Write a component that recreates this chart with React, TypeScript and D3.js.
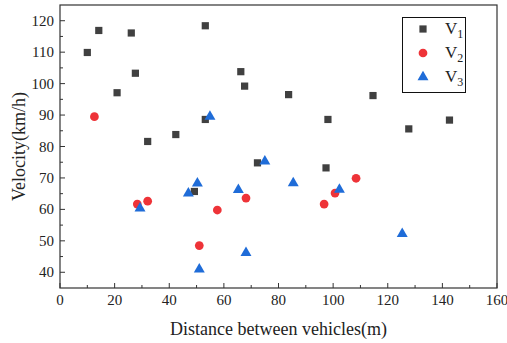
import React from "react";
import * as d3 from "d3";

const v1X = [10.0, 14.2, 20.9, 26.1, 27.6, 32.1, 42.4, 49.2, 53.2, 53.2, 66.2, 67.6, 72.3, 83.7, 97.4, 98.1, 114.6, 127.7, 142.6];
const v1Y = [109.9, 116.9, 97.1, 116.1, 103.3, 81.6, 83.8, 65.7, 118.4, 88.6, 103.8, 99.2, 74.8, 96.5, 73.2, 88.6, 96.2, 85.6, 88.4];
const v2X = [12.6, 28.3, 32.1, 51.0, 57.6, 68.1, 96.7, 100.7, 108.4];
const v2Y = [89.5, 61.7, 62.6, 48.5, 59.8, 63.6, 61.7, 65.2, 69.9];
const v3X = [54.9, 29.3, 47.0, 50.3, 65.3, 51.0, 68.1, 75.0, 85.4, 102.3, 125.3];
const v3Y = [89.5, 60.3, 65.1, 68.3, 66.2, 40.9, 46.2, 75.3, 68.4, 66.3, 52.2];
const xTicks = [0, 20, 40, 60, 80, 100, 120, 140, 160];
const yTicks = [40, 50, 60, 70, 80, 90, 100, 110, 120];
const seriesNames = ["1", "2", "3"];

const W = 507, H = 343;
const M = { left: 60, right: 497, top: 5, bottom: 288 };
const FONT = "'Liberation Serif', 'Times New Roman', serif";
const COLORS = ["#404040", "#ee3338", "#1f6cd8"];

export default function App() {
  const x = d3.scaleLinear().domain([0, 160]).range([M.left, M.right]);
  const y = d3.scaleLinear().domain([35, 125]).range([M.bottom, M.top]);
  const sq = d3.symbol().type(d3.symbolSquare).size(52)()!;
  const circ = d3.symbol().type(d3.symbolCircle).size(60)()!;
  const tri = d3.symbol().type(d3.symbolTriangle).size(52)()!;
  const shapes = [sq, circ, tri];
  const series = [
    v1X.map((d, i) => [d, v1Y[i]]),
    v2X.map((d, i) => [d, v2Y[i]]),
    v3X.map((d, i) => [d, v3Y[i]]),
  ];
  const xMinor = d3.range(10, 160, 20);
  const yMinor = d3.range(45, 125, 10);
  const axisColor = "#333";
  return (
    <svg width={W} height={H} style={{ position: "absolute", left: 0, top: 0 }}>
      <rect x={0} y={0} width={W} height={H} fill="#fff" />
      {xTicks.map((t) => (
        <g key={"xt" + t}>
          <line x1={x(t)} x2={x(t)} y1={M.bottom} y2={M.bottom - 5} stroke={axisColor} strokeWidth={1} />
          <text x={x(t)} y={M.bottom + 17} textAnchor="middle" fontFamily={FONT} fontSize={15} fill="#222">{t}</text>
        </g>
      ))}
      {xMinor.map((t) => (
        <line key={"xm" + t} x1={x(t)} x2={x(t)} y1={M.bottom} y2={M.bottom - 3} stroke={axisColor} strokeWidth={1} />
      ))}
      {yTicks.map((t) => (
        <g key={"yt" + t}>
          <line x1={M.left} x2={M.left + 5} y1={y(t)} y2={y(t)} stroke={axisColor} strokeWidth={1} />
          <text x={M.left - 6} y={y(t) + 5} textAnchor="end" fontFamily={FONT} fontSize={15} fill="#222">{t}</text>
        </g>
      ))}
      {yMinor.map((t) => (
        <line key={"ym" + t} x1={M.left} x2={M.left + 3} y1={y(t)} y2={y(t)} stroke={axisColor} strokeWidth={1} />
      ))}
      <rect x={M.left} y={M.top} width={M.right - M.left} height={M.bottom - M.top} fill="none" stroke={axisColor} strokeWidth={1.2} />
      {series.map((pts, si) =>
        pts.map(([a, b], i) => (
          <path key={si + "-" + i} d={shapes[si]} transform={`translate(${x(a)},${y(b)})`} fill={COLORS[si]} />
        ))
      )}
      <rect x={402.5} y={17.5} width={63} height={75} fill="#fff" stroke="#111" strokeWidth={1} />
      {seriesNames.map((n, i) => (
        <g key={"lg" + i}>
          <path d={shapes[i]} transform={`translate(423,${29 + i * 24})`} fill={COLORS[i]} />
          <text x={445} y={34 + i * 24} fontFamily={FONT} fontSize={17} fill="#222">
            V<tspan fontSize={12} dy={4}>{n}</tspan>
          </text>
        </g>
      ))}
      <text x={(M.left + M.right) / 2} y={335} textAnchor="middle" fontFamily={FONT} fontSize={18} fill="#222">Distance between vehicles(m)</text>
      <text transform={`translate(25,${(M.top + M.bottom) / 2}) rotate(-90)`} textAnchor="middle" fontFamily={FONT} fontSize={18} fill="#222">Velocity(km/h)</text>
    </svg>
  );
}
